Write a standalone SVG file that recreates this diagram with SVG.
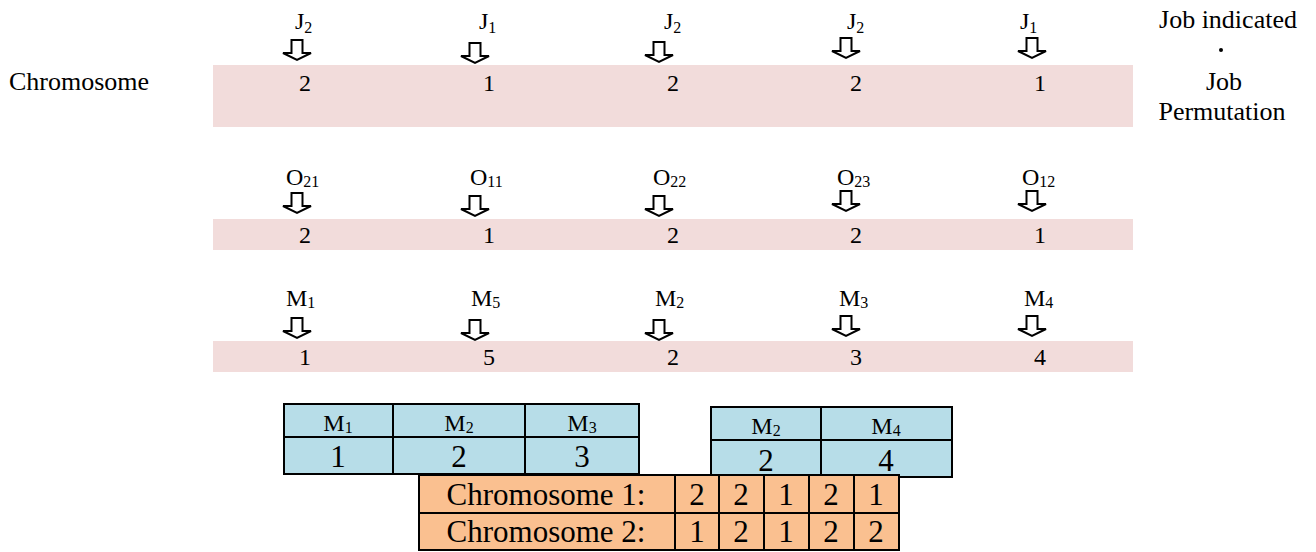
<svg xmlns="http://www.w3.org/2000/svg" width="1316" height="552" viewBox="0 0 1316 552" font-family="'Liberation Serif','Times New Roman',serif">
<defs>
<style>
text{font-family:"Liberation Serif","Times New Roman",serif;fill:#000}
.lbl{font-size:24px}
.side{font-size:26px}
.num{font-size:24px;text-anchor:middle}
.sub{font-size:16px}
.band{fill:#F2DCDB}
.arr{fill:#fff;stroke:#000;stroke-width:2;stroke-linejoin:miter}
.blue{fill:#B7DDE8;stroke:#000;stroke-width:2}
.org{fill:#FAC090;stroke:#000;stroke-width:2}
.tb{font-size:31px;text-anchor:middle}
.th{font-size:24px;text-anchor:middle}
.big{font-size:31px;text-anchor:middle}
</style>
<path id="ar" d="M-5.5,0 H5.5 V13 H14 L0,20 L-14,13 H-5.5 Z"/>
</defs>
<g id="bands">
<rect class="band" x="213" y="65" width="920" height="62"/>
<rect class="band" x="213" y="219" width="920" height="31"/>
<rect class="band" x="213" y="341" width="920" height="31"/>
</g>
<g id="left-label"><text class="side" x="9" y="90">Chromosome</text></g>
<g id="right-label">
<text class="side" x="1228" y="28" text-anchor="middle">Job indicated</text>
<circle cx="1221" cy="50" r="2"/>
<text class="side" x="1224" y="90" text-anchor="middle">Job</text>
<text class="side" x="1222" y="120" text-anchor="middle">Permutation</text>
</g>
<g id="connectors">
<use href="#ar" class="arr" x="297" y="40"/>
<use href="#ar" class="arr" x="475" y="43"/>
<use href="#ar" class="arr" x="659" y="42"/>
<use href="#ar" class="arr" x="846" y="38"/>
<use href="#ar" class="arr" x="1032" y="38"/>
<use href="#ar" class="arr" x="297" y="193"/>
<use href="#ar" class="arr" x="475" y="196"/>
<use href="#ar" class="arr" x="659" y="196"/>
<use href="#ar" class="arr" x="846" y="191"/>
<use href="#ar" class="arr" x="1032" y="191"/>
<use href="#ar" class="arr" x="297" y="318"/>
<use href="#ar" class="arr" x="475" y="320"/>
<use href="#ar" class="arr" x="659" y="320"/>
<use href="#ar" class="arr" x="846" y="316"/>
<use href="#ar" class="arr" x="1032" y="316"/>
</g>
<g id="row1">
<text class="lbl" x="295" y="29">J<tspan class="sub" dy="4">2</tspan></text>
<text class="lbl" x="479" y="29">J<tspan class="sub" dy="4">1</tspan></text>
<text class="lbl" x="664" y="29">J<tspan class="sub" dy="4">2</tspan></text>
<text class="lbl" x="847" y="29">J<tspan class="sub" dy="4">2</tspan></text>
<text class="lbl" x="1020" y="29">J<tspan class="sub" dy="4">1</tspan></text>
<text class="num" x="305" y="91">2</text>
<text class="num" x="489" y="91">1</text>
<text class="num" x="673" y="91">2</text>
<text class="num" x="856" y="91">2</text>
<text class="num" x="1040" y="91">1</text>
</g>
<g id="row2">
<text class="lbl" x="286" y="185">O<tspan class="sub" dy="2">21</tspan></text>
<text class="lbl" x="470" y="185">O<tspan class="sub" dy="2">11</tspan></text>
<text class="lbl" x="653" y="185">O<tspan class="sub" dy="2">22</tspan></text>
<text class="lbl" x="837" y="185">O<tspan class="sub" dy="2">23</tspan></text>
<text class="lbl" x="1022" y="185">O<tspan class="sub" dy="2">12</tspan></text>
<text class="num" x="305" y="243">2</text>
<text class="num" x="489" y="243">1</text>
<text class="num" x="673" y="243">2</text>
<text class="num" x="856" y="243">2</text>
<text class="num" x="1040" y="243">1</text>
</g>
<g id="row3">
<text class="lbl" x="286" y="306">M<tspan class="sub" dy="2">1</tspan></text>
<text class="lbl" x="471" y="306">M<tspan class="sub" dy="2">5</tspan></text>
<text class="lbl" x="655" y="306">M<tspan class="sub" dy="2">2</tspan></text>
<text class="lbl" x="839" y="306">M<tspan class="sub" dy="2">3</tspan></text>
<text class="lbl" x="1024" y="306">M<tspan class="sub" dy="2">4</tspan></text>
<text class="num" x="305" y="365">1</text>
<text class="num" x="489" y="365">5</text>
<text class="num" x="673" y="365">2</text>
<text class="num" x="856" y="365">3</text>
<text class="num" x="1040" y="365">4</text>
</g>
<g id="table1">
<rect class="blue" x="284" y="404" width="109" height="33"/>
<rect class="blue" x="393" y="404" width="132" height="33"/>
<rect class="blue" x="525" y="404" width="114" height="33"/>
<rect class="blue" x="284" y="437" width="109" height="37"/>
<rect class="blue" x="393" y="437" width="132" height="37"/>
<rect class="blue" x="525" y="437" width="114" height="37"/>
<text class="th" x="338" y="431">M<tspan class="sub" dy="2">1</tspan></text>
<text class="th" x="459" y="431">M<tspan class="sub" dy="2">2</tspan></text>
<text class="th" x="582" y="431">M<tspan class="sub" dy="2">3</tspan></text>
<text class="big" x="338" y="467">1</text>
<text class="big" x="459" y="467">2</text>
<text class="big" x="582" y="467">3</text>
</g>
<g id="table2">
<rect class="blue" x="711" y="407" width="110" height="33"/>
<rect class="blue" x="821" y="407" width="131" height="33"/>
<rect class="blue" x="711" y="440" width="110" height="37"/>
<rect class="blue" x="821" y="440" width="131" height="37"/>
<text class="th" x="766" y="434">M<tspan class="sub" dy="2">2</tspan></text>
<text class="th" x="886" y="434">M<tspan class="sub" dy="2">4</tspan></text>
<text class="big" x="766" y="471">2</text>
<text class="big" x="886" y="471">4</text>
</g>
<g id="chromosomes">
<rect class="org" x="419" y="475" width="256" height="38"/>
<rect class="org" x="675" y="475" width="44" height="38"/>
<rect class="org" x="719" y="475" width="45" height="38"/>
<rect class="org" x="764" y="475" width="45" height="38"/>
<rect class="org" x="809" y="475" width="45" height="38"/>
<rect class="org" x="854" y="475" width="45" height="38"/>
<rect class="org" x="419" y="513" width="256" height="37"/>
<rect class="org" x="675" y="513" width="44" height="37"/>
<rect class="org" x="719" y="513" width="45" height="37"/>
<rect class="org" x="764" y="513" width="45" height="37"/>
<rect class="org" x="809" y="513" width="45" height="37"/>
<rect class="org" x="854" y="513" width="45" height="37"/>
<text class="tb" x="546" y="505">Chromosome 1:</text>
<text class="tb" x="546" y="542">Chromosome 2:</text>
<text class="tb" x="697" y="505">2</text>
<text class="tb" x="741" y="505">2</text>
<text class="tb" x="786" y="505">1</text>
<text class="tb" x="831" y="505">2</text>
<text class="tb" x="876" y="505">1</text>
<text class="tb" x="697" y="542">1</text>
<text class="tb" x="741" y="542">2</text>
<text class="tb" x="786" y="542">1</text>
<text class="tb" x="831" y="542">2</text>
<text class="tb" x="876" y="542">2</text>
</g>
</svg>
